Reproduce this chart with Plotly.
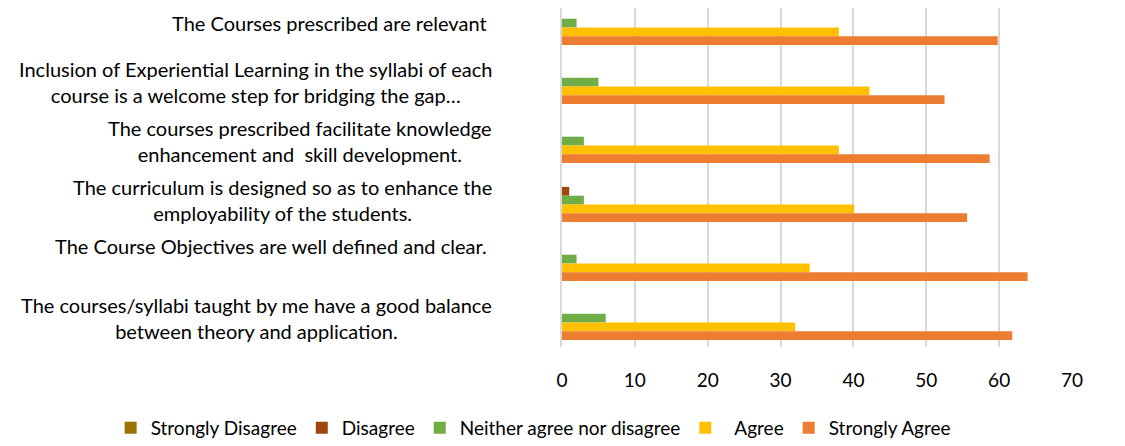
import plotly.graph_objects as go

# Survey statements, top to bottom as they appear on the chart
statements = [
    "The Courses prescribed are relevant\u00a0",
    "Inclusion of Experiential Learning in the syllabi of each<br>course is a welcome step for bridging the gap…",
    "The courses prescribed facilitate knowledge<br>enhancement and\u00a0 skill development.",
    "The curriculum is designed so as to enhance the<br>employability of the students.",
    "The Course Objectives are well defined and clear.\u00a0<br>\u00a0",
    "The courses/syllabi taught by me have a good balance<br>between theory and application.",
]
cat_ids = ["q1", "q2", "q3", "q4", "q5", "q6"]

series_names = ["Strongly Disagree", "Disagree", "Neither agree nor disagree",
                "\u00a0\u00a0Agree", "Strongly Agree"]
strongly_disagree = [0, 0, 0, 0, 0, 0]
disagree = [0, 0, 0, 1, 0, 0]
neutral = [2, 5, 3, 3, 2, 6]
agree = [38, 42.2, 38, 40.1, 34, 32]
strongly_agree = [59.8, 52.5, 58.7, 55.6, 63.9, 61.8]

x_ticks = [0, 10, 20, 30, 40, 50, 60, 70]

colors = ["#997300", "#9E480E", "#70AD47", "#FFC000", "#ED7D31"]
FONT = "Lato, 'Open Sans', sans-serif"

fig = go.Figure()
for name, vals, col in zip(series_names,
                           [strongly_disagree, disagree, neutral, agree, strongly_agree],
                           colors):
    fig.add_trace(go.Bar(
        y=cat_ids, x=vals, name=name, orientation="h",
        marker=dict(color=col, line=dict(width=0)),
    ))

# category labels drawn as annotations so multi-line text is centred
for cid, text in zip(cat_ids, statements):
    fig.add_annotation(
        x=0, xref="paper", y=cid, yref="y",
        text=text, showarrow=False,
        xanchor="right", yanchor="middle", align="center",
        xshift=-68,
        font=dict(family=FONT, size=20, color="#000000"),
    )

fig.update_layout(
    width=1125, height=446,
    barmode="group", bargap=0.254, bargroupgap=0,
    plot_bgcolor="white", paper_bgcolor="white",
    margin=dict(l=554, r=61, t=0, b=107, autoexpand=False),
    font=dict(family=FONT, size=19, color="#000000"),
    xaxis=dict(
        range=[0, 70], tickvals=x_ticks,
        showgrid=True, gridcolor="#D9D9D9", gridwidth=1.5,
        zeroline=False, showline=False,
        ticks="", ticklabelstandoff=20,
        tickfont=dict(family=FONT, size=19, color="#000000"),
    ),
    yaxis=dict(
        type="category", range=[5.49, -0.256],
        showticklabels=False, showgrid=False,
        showline=True, linecolor="#D9D9D9", linewidth=1.5,
        zeroline=False, ticks="",
    ),
    legend=dict(
        orientation="h", xref="paper", yref="paper",
        x=-0.885, xanchor="left", y=-0.239, yanchor="middle",
        font=dict(family=FONT, size=19, color="#000000"),
        traceorder="normal", itemwidth=30,
    ),
    showlegend=True,
)

fig.write_html("out.html")
